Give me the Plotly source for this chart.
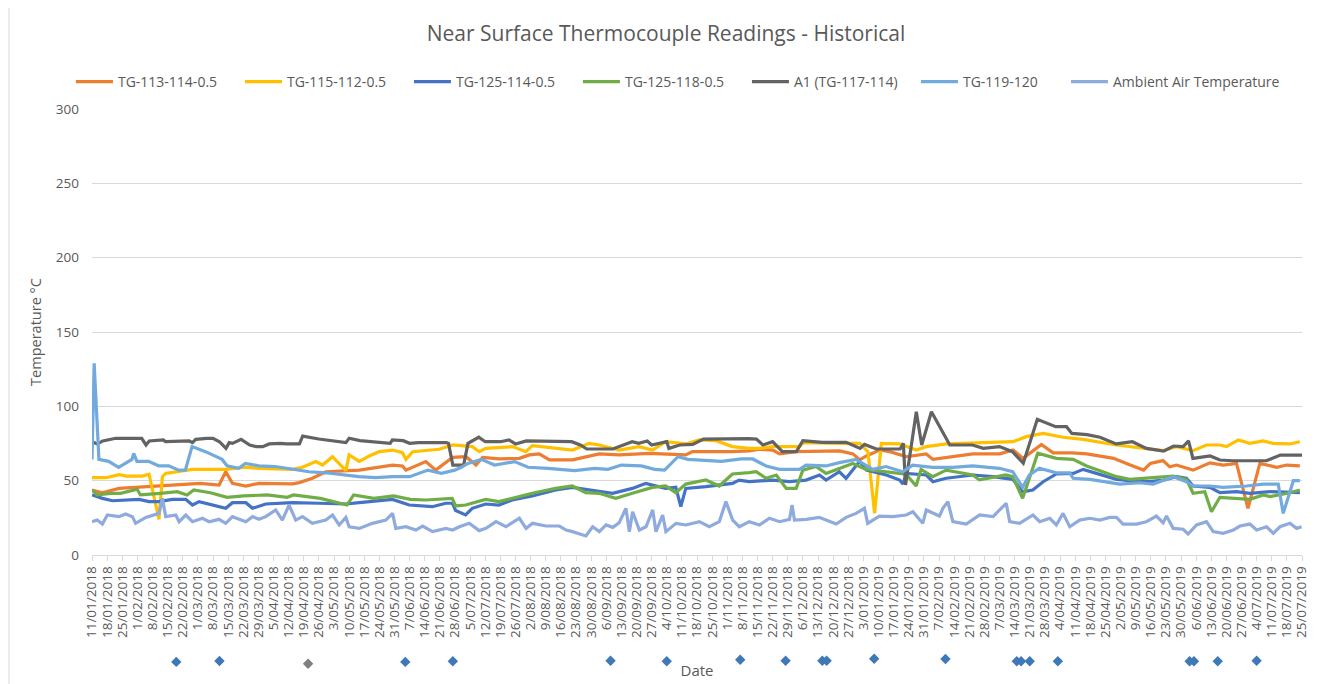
import pandas as pd
import plotly.graph_objects as go

START = pd.Timestamp("2018-01-11")

# ---- data (x = days since 11/01/2018, y = temperature °C) ----
a1_day = [0, 2.5, 5, 11, 23, 25, 26.5, 33, 34, 45, 46.5, 48, 53, 56, 59, 62, 63.5, 65, 69, 73, 76, 79, 82, 87, 90, 96,
          97.5, 105, 117.5, 119, 124, 138, 139, 144, 147, 151, 164, 165, 167, 172, 174, 179, 182, 189, 193, 196, 201,
          213, 222, 226, 229, 241, 244, 250, 253, 257, 259, 266, 267, 272, 278, 283, 304, 307.5, 310.5, 315, 319.5,
          326, 329, 338, 349, 355.5, 357.5, 363, 374, 375.5, 376.5, 381.5, 384, 388.5, 397, 407.5, 412.5, 420, 426,
          431, 437.5, 446, 451, 453.5, 460.5, 466.5, 474, 481.5, 488, 496, 500.5, 505, 507.5, 509.5, 517.5, 522, 528,
          543.5, 550, 560]
a1_val = [76.2, 74.7, 76.7, 78.5, 78.5, 74.0, 76.7, 77.4, 76.2, 76.7, 75.6, 77.8, 78.5, 78.5, 76.2, 71.7, 75.6, 75.1,
          77.8, 74.0, 72.9, 72.9, 74.7, 75.1, 74.7, 74.7, 80.0, 78.0, 75.6, 78.5, 76.9, 75.1, 77.4, 76.9, 75.1, 75.6,
          75.6, 75.1, 60.5, 60.5, 75.1, 79.2, 76.2, 76.2, 77.4, 74.7, 76.7, 76.7, 76.2, 74.0, 71.3, 71.3, 72.9, 76.2,
          75.1, 76.7, 74.0, 76.2, 71.7, 74.0, 74.4, 78.0, 78.3, 78.0, 74.0, 76.2, 69.5, 69.5, 76.9, 75.8, 75.8, 71.7,
          74.4, 71.3, 71.3, 75.1, 47.1, 96.4, 74.0, 96.4, 74.0, 74.0, 71.7, 72.9, 69.5, 61.7, 91.3, 86.3, 86.3, 81.8,
          81.0, 79.2, 74.7, 76.2, 71.7, 69.9, 73.3, 72.9, 76.7, 65.0, 66.6, 63.9, 63.4, 63.4, 67.2, 67.2]

tg115_day = [0, 6.5, 12.5, 16, 23.3, 26.4, 28, 31, 32.6, 34.1, 46.5, 61.9, 71.2, 77.3, 92.8, 97.4, 103.6, 106.7, 111.3,
             117.5, 119, 123.7, 128.3, 132.9, 139.1, 143.7, 145.3, 148.4, 160.7, 166.9, 176.1, 179.2, 182.3, 194.6,
             200.8, 203.8, 222.4, 230.1, 234.7, 244, 253.2, 259.4, 265.5, 274.8, 281, 288.7, 296.4, 304.1, 308.9,
             315.1, 327.4, 329, 346, 355.3, 359.1, 362.2, 365.3, 373.8, 381.5, 386.1, 395.4, 407.7, 426.3, 432.4,
             440.2, 449.4, 458.7, 474.1, 488, 495.7, 501.9, 509.6, 515.8, 522, 525.1, 530.5, 535.9, 542.1, 546.7,
             554.4, 559]
tg115_val = [52.0, 52.0, 54.0, 53.1, 53.1, 54.3, 43.7, 24.0, 52.7, 54.9, 57.6, 57.6, 59.0, 58.3, 57.6, 59.0, 62.8,
             60.5, 66.1, 56.7, 67.3, 63.0, 66.6, 69.5, 70.6, 68.8, 64.3, 69.5, 71.1, 74.0, 72.9, 69.5, 71.7, 72.9, 69.5,
             73.6, 70.6, 75.1, 74.0, 70.6, 72.9, 70.6, 76.2, 74.7, 77.4, 76.9, 72.9, 71.7, 71.7, 72.9, 72.9, 75.6, 75.1,
             75.1, 69.5, 28.0, 75.1, 74.7, 70.6, 72.9, 74.7, 75.1, 76.2, 79.6, 81.8, 79.2, 77.8, 74.0, 71.7, 70.2, 72.9,
             70.2, 74.0, 74.0, 72.9, 77.4, 75.1, 76.7, 75.1, 74.7, 76.2]

tg113_day = [0, 4.8, 12.5, 31, 50.1, 58.8, 61.9, 65, 71.2, 77.3, 92.8, 95.9, 102, 108.2, 123.7, 139.1, 143.7, 145.3,
             154.5, 159.1, 166.9, 173.1, 177.7, 180.8, 188.5, 197.8, 202.4, 207, 211.7, 222.4, 234.7, 244, 257.9, 274.8,
             277.9, 296.4, 304.1, 308.9, 315.1, 318.2, 325.9, 346, 352.2, 355.3, 358.4, 364.5, 369.2, 376.9, 386.1,
             389.2, 400, 407.7, 420.1, 426.3, 430.9, 439.4, 444.8, 453.5, 460.4, 472.8, 480.5, 486.7, 489.8, 495.7,
             498.8, 501.9, 509.6, 517.4, 523.5, 529.7, 535, 540.5, 548.3, 552.9, 559]
tg113_val = [43.7, 41.9, 44.8, 46.4, 48.2, 47.1, 56.0, 48.2, 46.4, 48.2, 47.8, 48.7, 51.6, 56.0, 57.1, 60.5, 59.9, 57.1,
             62.8, 57.1, 65.7, 66.1, 60.5, 65.7, 64.6, 65.0, 67.3, 68.0, 64.0, 64.0, 68.0, 67.3, 68.4, 67.3, 69.5, 69.5,
             70.0, 71.1, 70.6, 68.0, 69.5, 70.0, 68.0, 64.0, 66.6, 70.6, 69.5, 66.1, 68.0, 64.3, 66.6, 68.0, 68.0, 70.6,
             65.0, 74.4, 68.7, 68.7, 68.0, 65.0, 60.5, 57.1, 61.6, 63.5, 59.3, 60.5, 57.1, 62.0, 60.5, 61.6, 31.4, 61.6,
             59.0, 60.5, 59.9]

tg119_day = [0, 1, 3.2, 7.7, 12.3, 18.5, 19.3, 20.8, 26.2, 30.8, 35.5, 40.1, 43.2, 46.3, 52.5, 57.1, 60.2, 62.5, 67.9,
             71, 77.2, 84.9, 92.6, 100.4, 108.1, 117.4, 123.6, 131.3, 139.1, 147, 155.5, 161.7, 167.9, 170.9, 174,
             180.2, 186.3, 195.6, 201.8, 211, 223.4, 232.6, 238.8, 245, 254.2, 260.4, 265, 271.2, 275.8, 291.3, 300.5,
             305.8, 312, 318.2, 327.4, 330.5, 339.7, 345.9, 353.6, 361.3, 367.5, 375.2, 379.8, 389.1, 398.3, 407.6,
             419.9, 426.1, 430.7, 433.8, 438.4, 446.3, 452.5, 454.1, 461.8, 475.7, 484.9, 491.1, 500.4, 506.5, 509.6,
             517.4, 523.5, 534.3, 542.1, 549, 551.3, 556, 559]
tg119_val = [64.3, 129.0, 64.3, 63.0, 59.0, 64.3, 68.3, 63.0, 63.0, 60.0, 60.0, 57.1, 57.1, 72.9, 69.5, 66.1, 64.3,
             60.0, 58.3, 61.6, 60.0, 59.5, 57.6, 56.0, 55.3, 53.8, 52.7, 52.0, 52.7, 52.7, 57.1, 54.9, 57.1, 59.0, 61.6,
             64.3, 60.5, 62.8, 59.0, 58.3, 56.7, 58.3, 57.6, 60.5, 59.9, 57.6, 57.1, 66.1, 64.3, 63.0, 64.6, 64.6, 59.9,
             57.6, 57.6, 60.5, 59.9, 62.1, 64.3, 57.6, 59.5, 56.0, 60.5, 59.0, 59.0, 59.9, 58.3, 56.0, 45.5, 53.8, 58.3,
             55.3, 55.3, 51.6, 50.9, 47.7, 48.6, 47.7, 52.7, 49.3, 46.4, 46.4, 45.5, 46.4, 47.7, 47.7, 28.0, 50.0, 50.0]

tg125_118_day = [0, 2.4, 8.6, 13.2, 20.9, 22.4, 31.7, 39.4, 44, 47.1, 54.8, 62.5, 70.2, 81, 90.3, 93.3, 105.7, 118,
                 121.1, 130.4, 139.6, 147.3, 154.4, 166.7, 168.3, 172.9, 182.2, 188.3, 203.8, 214.6, 222.3, 228.5,
                 234.7, 242.4, 250.1, 259.4, 265.5, 270.2, 274.8, 284.1, 290.3, 296.4, 304.1, 307.4, 312, 316.7, 321.3,
                 325.9, 329, 335.1, 339.7, 345.9, 352.1, 358.3, 367.5, 376.8, 381.4, 383.7, 389.1, 395.3, 407.6, 410.7,
                 423, 426.1, 430.7, 437.7, 446.3, 454.1, 460.3, 474.2, 480.3, 495.8, 500.4, 506.5, 509.6, 515, 518.1,
                 522, 529.7, 535.9, 542.1, 545.2, 554.4, 559]
tg125_118_val = [43.7, 40.4, 41.5, 41.5, 44.2, 40.4, 41.5, 42.6, 40.4, 43.7, 41.9, 38.8, 39.7, 40.4, 38.8, 40.4, 38.1,
                 33.6, 40.4, 38.1, 39.7, 37.4, 37.0, 38.1, 33.0, 33.6, 37.4, 35.9, 41.5, 44.8, 46.4, 41.9, 41.5, 38.1,
                 41.5, 45.5, 46.4, 41.9, 47.7, 50.5, 46.4, 54.5, 55.4, 56.0, 51.6, 53.8, 44.8, 44.8, 57.1, 59.5, 54.9,
                 58.3, 61.6, 57.6, 56.0, 54.3, 46.4, 57.6, 52.7, 57.1, 53.8, 50.5, 53.8, 52.7, 38.1, 68.4, 65.0, 64.3,
                 59.9, 52.7, 50.9, 52.3, 53.1, 50.9, 41.5, 42.6, 29.1, 38.8, 38.1, 37.4, 40.4, 39.3, 41.9, 43.7]

tg125_114_day = [0, 4.8, 9.5, 21.8, 26.4, 31, 37.2, 43.4, 46.5, 49.6, 61.9, 65, 71.2, 74.3, 80.4, 92.8, 105.1, 117.5,
                 123.7, 139.1, 146.8, 157.5, 163.7, 166.8, 168.3, 172.9, 176, 182.2, 188.3, 194.5, 203.8, 214.6, 222.3,
                 231.6, 240.9, 250.1, 256.3, 265.5, 270.2, 272.5, 274.8, 284.1, 290.3, 296.4, 299.5, 304.1, 315.1,
                 322.8, 330.5, 336.7, 339.7, 345.9, 349, 355.3, 358.4, 367.6, 373.8, 375.3, 376.9, 386.1, 389.2, 395.3,
                 407.7, 416.9, 426.1, 430.7, 435.4, 440.2, 446.3, 454.1, 458.7, 464.9, 474.2, 480.3, 489.6, 495.8,
                 501.9, 506.5, 509.6, 517.4, 522, 529.7, 535.9, 545.2, 559]
tg125_114_val = [40.4, 38.1, 36.5, 37.4, 35.9, 35.9, 37.4, 37.4, 33.6, 35.9, 31.4, 35.2, 35.2, 31.4, 34.3, 35.2, 34.8,
                 34.3, 35.2, 37.4, 33.6, 32.5, 34.8, 34.8, 29.9, 27.0, 31.4, 34.3, 33.6, 37.0, 39.7, 43.7, 45.5, 43.7,
                 41.5, 44.8, 48.2, 44.8, 45.5, 32.5, 44.8, 46.0, 47.1, 48.2, 50.4, 49.3, 50.4, 49.3, 50.4, 53.8, 50.4,
                 56.0, 51.6, 63.0, 57.1, 53.8, 50.4, 47.7, 54.9, 53.8, 49.3, 51.6, 53.8, 52.7, 50.9, 42.6, 43.7, 49.3,
                 54.5, 54.9, 57.6, 54.9, 50.9, 50.0, 49.3, 50.4, 52.7, 51.6, 46.4, 45.5, 41.9, 42.6, 41.5, 42.6, 41.9]

ambient_day = [0, 2.4, 4.8, 7.1, 12.5, 15.6, 18.7, 20.2, 24.9, 28, 31, 32.6, 34.1, 38.8, 40.3, 43.4, 46.5, 51.1, 54.2,
               58.8, 61.9, 65, 71.2, 74.3, 77.3, 80.4, 85, 88.1, 91.2, 94.3, 97.4, 102, 108.2, 111.3, 114.4, 117.5, 119,
               123.7, 129.8, 136, 139.1, 140.6, 145.3, 149.9, 153, 157.6, 163.8, 166.9, 170, 174.6, 179.2, 182.3, 187,
               191.6, 197.8, 200.9, 203.9, 210.1, 216.3, 219.4, 222.4, 228.6, 231.7, 234.8, 237.9, 241, 244, 247.1,
               248.7, 250.2, 253.3, 256.4, 259.5, 261, 264.1, 265.6, 270.3, 274.9, 281.1, 285.7, 290.3, 293.4, 296.5,
               299.6, 304.2, 308.9, 313.5, 318.2, 322.8, 324, 325.1, 330.5, 336.6, 339.7, 344.4, 349, 353.6, 357.5, 359,
               364.4, 370.6, 376.8, 379.9, 384.5, 386.1, 392.2, 393.8, 396.1, 398.4, 404.6, 410.8, 417, 423.1, 424.7,
               429.3, 435.5, 438.6, 443.3, 446.3, 449.4, 452.5, 457.1, 461.8, 466.4, 471, 474.1, 477.2, 483.4, 488,
               492.6, 495.7, 497.3, 500.4, 505, 507.3, 511.2, 515.8, 518.9, 523.5, 528.2, 531.3, 535.9, 539, 543.6,
               546.7, 549.8, 554.4, 557.5, 559.8]
ambient_val = [22.4, 23.5, 20.8, 26.9, 25.8, 27.6, 25.8, 21.3, 25.3, 26.9, 28.0, 38.1, 25.8, 26.9, 22.4, 26.9, 22.4,
               24.7, 22.4, 24.0, 21.3, 25.8, 22.4, 25.8, 24.0, 25.8, 30.3, 23.5, 33.6, 23.5, 25.8, 21.3, 23.5, 26.9,
               20.2, 25.3, 19.0, 17.9, 21.3, 23.5, 28.0, 17.9, 19.0, 16.8, 19.5, 15.7, 17.9, 16.8, 19.0, 21.3, 16.4,
               17.9, 22.4, 19.0, 24.7, 17.9, 21.3, 19.5, 19.5, 16.8, 15.7, 12.8, 19.0, 15.7, 20.2, 18.6, 21.7, 31.4,
               15.7, 29.1, 16.8, 19.0, 30.3, 15.7, 26.9, 15.7, 21.3, 20.2, 22.4, 19.0, 22.4, 35.9, 23.5, 19.0, 22.4,
               20.2, 24.7, 22.4, 24.0, 33.6, 23.5, 24.0, 25.3, 23.5, 20.8, 25.3, 28.0, 31.4, 21.3, 26.2, 25.8, 26.9,
               29.1, 21.3, 30.3, 26.2, 31.4, 35.9, 22.4, 20.8, 26.9, 25.8, 34.8, 22.4, 21.3, 26.9, 22.4, 24.7, 20.2,
               28.0, 19.0, 23.5, 24.7, 23.5, 25.3, 25.3, 20.8, 20.8, 22.4, 26.2, 21.7, 26.2, 17.9, 17.3, 14.1, 20.2,
               22.4, 15.7, 14.6, 16.8, 19.5, 20.8, 16.8, 19.0, 14.6, 19.0, 21.3, 17.9, 19.0]

# event markers shown below the date axis
event_day = [39, 59, 145, 167, 240, 266, 300, 321, 338, 340, 362, 395, 428, 430, 434, 447, 508, 510, 521, 539]
event_level = [0.36, 0.40, 0.36, 0.39, 0.41, 0.39, 0.46, 0.41, 0.41, 0.41, 0.50, 0.49, 0.39, 0.39, 0.39, 0.39, 0.39,
               0.39, 0.39, 0.41]
event_grey_day = [100]
event_grey_level = [0.28]


def to_dates(days):
    return START + pd.to_timedelta(days, unit="D")


series = [
    ("TG-113-114-0.5", tg113_day, tg113_val, "#ED7D31", "legend"),
    ("TG-115-112-0.5", tg115_day, tg115_val, "#FFC000", "legend"),
    ("TG-125-114-0.5", tg125_114_day, tg125_114_val, "#4472C4", "legend"),
    ("TG-125-118-0.5", tg125_118_day, tg125_118_val, "#70AD47", "legend"),
    ("A1 (TG-117-114)", a1_day, a1_val, "#636363", "legend"),
    ("TG-119-120", tg119_day, tg119_val, "#72AADD", "legend"),
    ("Ambient Air Temperature", ambient_day, ambient_val, "#8FAADC", "legend2"),
]

FONT = "Open Sans"
GREY = "#595959"

fig = go.Figure()
for name, d, v, c, lg in series:
    fig.add_trace(go.Scatter(x=to_dates(d), y=v, mode="lines", name=name, legend=lg,
                             line=dict(color=c, width=3.2), showlegend=True))

fig.add_trace(go.Scatter(x=to_dates(event_day), y=event_level, mode="markers", xaxis="x", yaxis="y2",
                         marker=dict(symbol="diamond", size=8, color="#3F78B6"), showlegend=False,
                         hoverinfo="x"))
fig.add_trace(go.Scatter(x=to_dates(event_grey_day), y=event_grey_level, mode="markers", xaxis="x", yaxis="y2",
                         marker=dict(symbol="diamond", size=8, color="#7F7F7F"), showlegend=False,
                         hoverinfo="x"))

# the page body adds an 8px offset, so the figure is 8px smaller than the window
W, H = 1316, 676
legend_common = dict(orientation="h", xanchor="left", y=1.048, yanchor="middle",
                     font=dict(family=FONT, size=14, color=GREY), itemwidth=37, bgcolor="rgba(0,0,0,0)")
fig.update_layout(
    width=W, height=H,
    margin=dict(l=84, r=22, t=101, b=14, autoexpand=False),
    paper_bgcolor="white", plot_bgcolor="white",
    font=dict(family=FONT, color=GREY, size=13),
    title=dict(text="Near Surface Thermocouple Readings - Historical", x=0.5, xanchor="center",
               y=1 - 26 / H, yanchor="middle", yref="container",
               font=dict(family=FONT, size=21, color=GREY)),
    legend=dict(x=-0.0174, entrywidth=117, entrywidthmode="pixels", **legend_common),
    legend2=dict(x=(1066 - 92) / 1210, **legend_common),
    xaxis=dict(type="date", anchor="y", range=[START, START + pd.Timedelta(days=560)], automargin=False,
               tick0=START, dtick=7 * 86400000, tickformat="%-d/%m/%Y", tickangle=-90,
               ticks="outside", ticklen=5, tickcolor="#D9D9D9", showline=True, linecolor="#D9D9D9",
               linewidth=1, showgrid=False, zeroline=False,
               tickfont=dict(family=FONT, size=13.5, color=GREY),
               title=dict(text="Date", font=dict(family=FONT, size=15, color=GREY), standoff=28)),
    yaxis=dict(domain=[0.205, 1], range=[0, 300], dtick=50, showgrid=True, gridcolor="#D9D9D9", gridwidth=1,
               zeroline=False, showline=False, ticks="", ticklabelstandoff=12, automargin=False,
               tickfont=dict(family=FONT, size=13.5, color=GREY),
               title=dict(text="Temperature °C", font=dict(family=FONT, size=14.5, color=GREY), standoff=10)),
    yaxis2=dict(domain=[0, 0.04], range=[0, 1], anchor="x", visible=False, automargin=False),
    showlegend=True,
)

# light chart border (sides)
fig.add_shape(type="rect", xref="paper", yref="paper", x0=-0.0686, x1=1.0124, y0=-0.2, y1=1.3,
              line=dict(color="#D9D9D9", width=1), fillcolor="rgba(0,0,0,0)", layer="below")

fig.write_html("out.html")
